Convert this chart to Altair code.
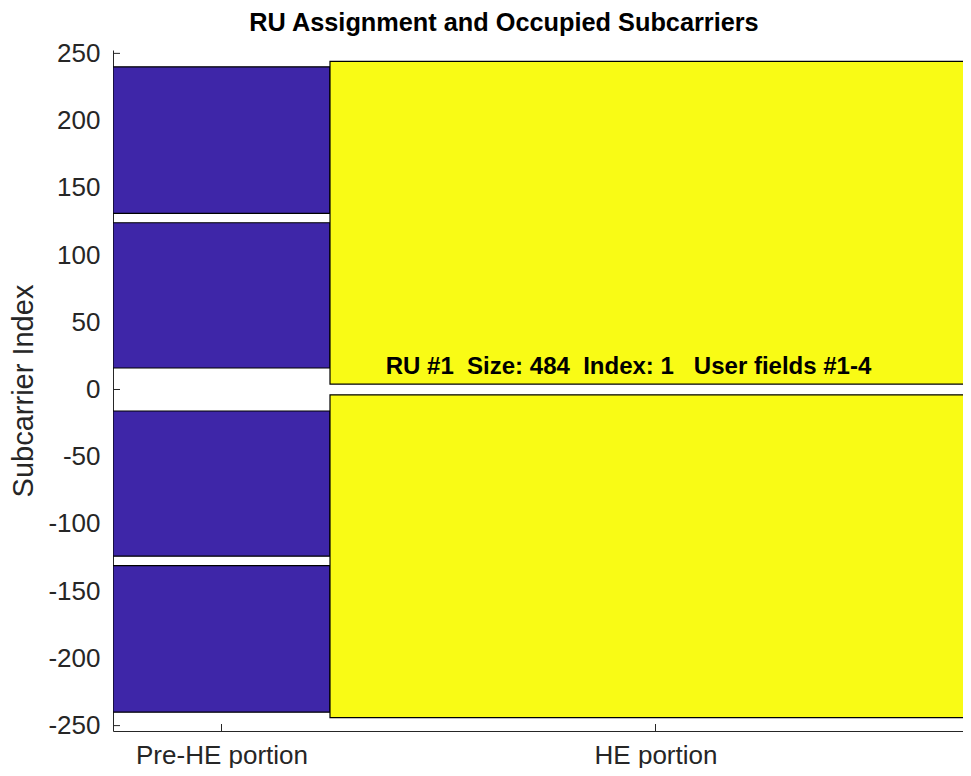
import altair as alt
import pandas as pd

# ---- data ----
title_text = "RU Assignment and Occupied Subcarriers"
y_title = "Subcarrier Index"
x_tick_positions = [0.5, 2.5]
x_tick_labels = ["Pre-HE portion", "HE portion"]
y_ticks = [-250, -200, -150, -100, -50, 0, 50, 100, 150, 200, 250]

rect_portion = ["Pre-HE", "Pre-HE", "Pre-HE", "Pre-HE", "HE", "HE"]
rect_x0 = [0, 0, 0, 0, 1, 1]
rect_x1 = [1, 1, 1, 1, 4, 4]
rect_y0 = [131, 16, -124, -240, 4, -244]
rect_y1 = [240, 124, -16, -131, 244, -4]

ann_text = ["RU #1  Size: 484  Index: 1   User fields #1-4"]
ann_x = [2.5]
ann_y = [11.5]

FONT = "Liberation Sans"
AXC = "#262626"
BLUE = "#3E26A8"
YELLOW = "#F9FB15"
W, H = 850, 681
PX_PER_UNIT = 217.0  # one x-unit (the Pre-HE band) in pixels

rects = pd.DataFrame({"portion": rect_portion, "x0": rect_x0, "x1": rect_x1,
                      "y0": rect_y0, "y1": rect_y1})
ann = pd.DataFrame({"t": [s.replace(" ", "\u00a0") for s in ann_text],
                    "x": ann_x, "y": ann_y})
yt = pd.DataFrame({"v": y_ticks})
xt = pd.DataFrame({"p": x_tick_positions})

xscale = alt.Scale(domain=[0, W / PX_PER_UNIT], nice=False, zero=False)
yscale = alt.Scale(domain=[-254, 252.5], nice=False, zero=False)

label_expr = " : ".join(
    f"datum.value == {p} ? '{l}'" for p, l in zip(x_tick_positions, x_tick_labels)
) + " : ''"

xaxis = alt.Axis(
    values=x_tick_positions, labelExpr=label_expr, title=None, ticks=False,
    grid=False, labelPadding=32, labelBaseline="alphabetic", labelFont=FONT,
    labelFontSize=26, labelColor=AXC, labelFlush=False, labelOverlap=False,
    domainColor=AXC, domainWidth=1)
yaxis = alt.Axis(
    values=y_ticks, labelExpr="'' + datum.value", title=y_title, ticks=False,
    grid=False, labelPadding=13,
    labelFont=FONT, labelFontSize=26, labelColor=AXC, domainColor=AXC,
    domainWidth=1, titleFont=FONT, titleFontSize=29, titleFontWeight="normal",
    titleColor=AXC, titleX=-81, titleY=H / 2, titleAlign="center",
    titleBaseline="alphabetic", labelOverlap=False)

ytick_layer = alt.Chart(yt).mark_rule(color=AXC, strokeWidth=1).encode(
    y=alt.Y("v:Q", scale=yscale, axis=yaxis),
    x=alt.value(0), x2=alt.value(7))

xtick_layer = alt.Chart(xt).mark_rule(color=AXC, strokeWidth=1).encode(
    x=alt.X("p:Q", scale=xscale, axis=xaxis),
    y=alt.value(H - 7), y2=alt.value(H))

rect_layer = alt.Chart(rects).mark_rect(stroke="black", strokeWidth=1.2, clip=True).encode(
    x=alt.X("x0:Q", scale=xscale, axis=xaxis),
    x2="x1:Q",
    y=alt.Y("y0:Q", scale=yscale, axis=yaxis),
    y2="y1:Q",
    color=alt.Color("portion:N", scale=alt.Scale(domain=["Pre-HE", "HE"],
                                                 range=[BLUE, YELLOW]), legend=None),
)

text_layer = alt.Chart(ann).mark_text(
    font=FONT, fontWeight="bold", fontSize=24, color="black",
    align="center", baseline="alphabetic", dx=-27).encode(
    x=alt.X("x:Q", scale=xscale, axis=xaxis),
    y=alt.Y("y:Q", scale=yscale, axis=yaxis), text="t:N")

chart = alt.layer(ytick_layer, xtick_layer, rect_layer, text_layer).properties(
    width=W, height=H,
    autosize=alt.AutoSizeParams(type="none"),
    padding={"left": 105, "top": 42, "right": 0, "bottom": 37},
    title=alt.Title(title_text, font=FONT, fontSize=25.3, fontWeight="bold",
                    color="black", anchor="middle", dx=-34, offset=-16,
                    baseline="alphabetic"),
).configure_view(stroke=None)

chart.save("out.html", embed_options={"renderer": "svg", "actions": False})
